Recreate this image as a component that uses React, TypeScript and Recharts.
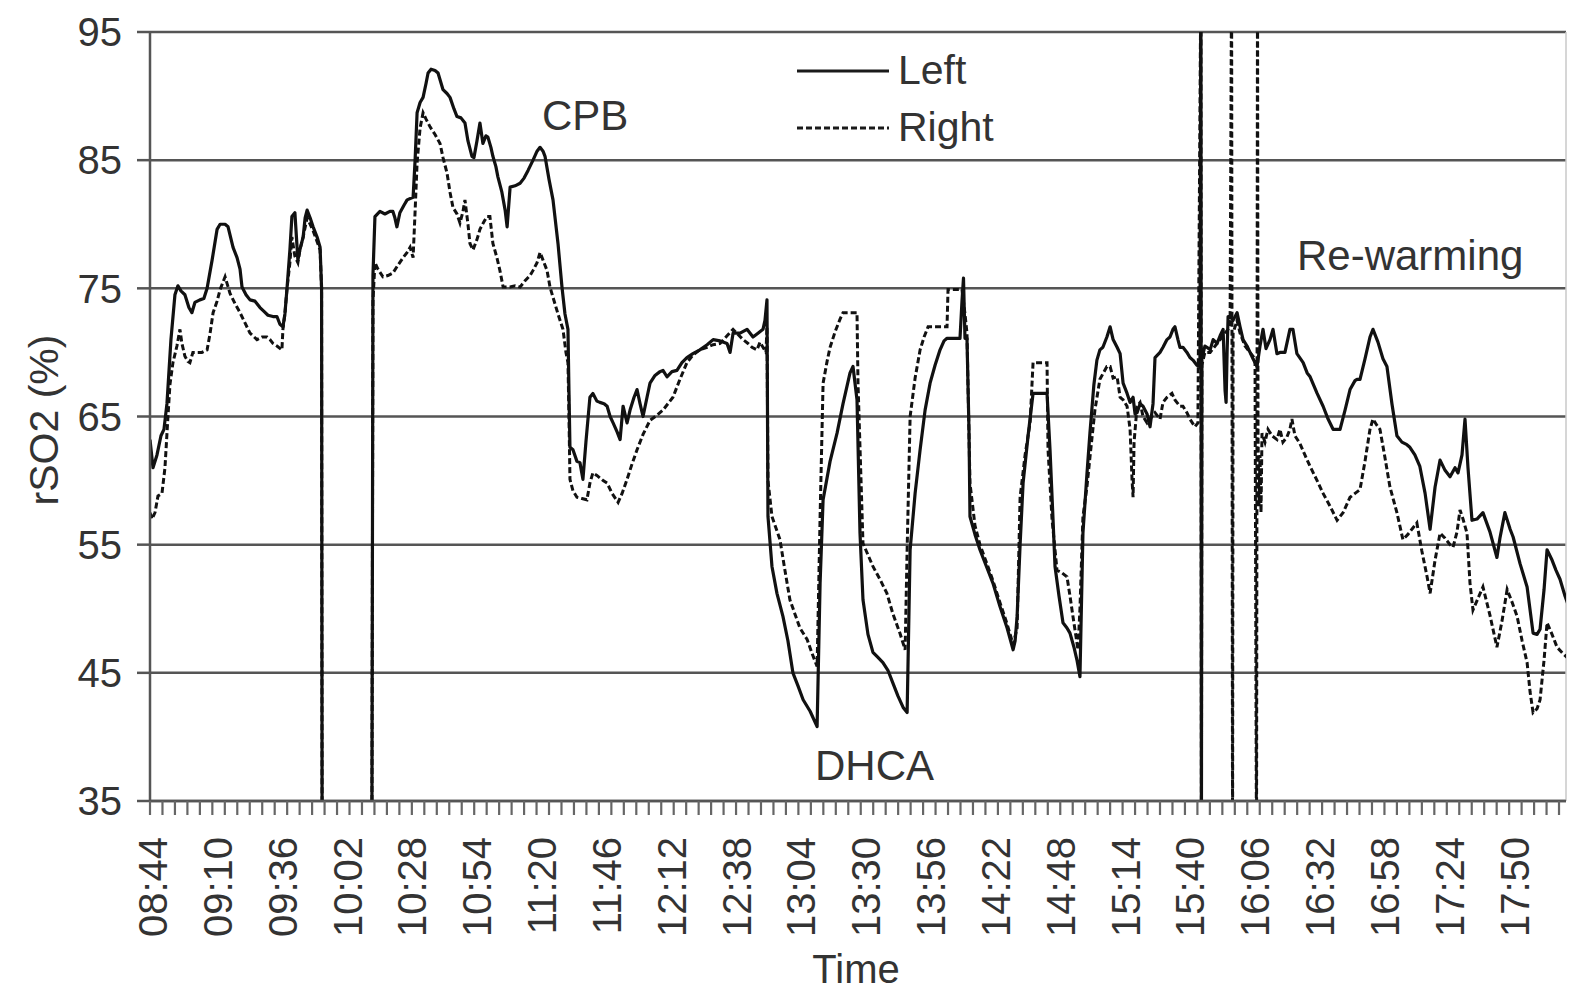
import { LineChart, Line, XAxis, YAxis, CartesianGrid, Legend, ReferenceLine } from "recharts"

const FONT = "'Liberation Sans', Arial, sans-serif"

// minutes after 08:44, rSO2 (%)
const leftSeries: [number, number | null][] = [
  [-1.2, 63.2], [0, 61], [1.6, 62], [3.2, 63.5], [4.4, 64], [5.6, 66], [7.2, 71], [8.8, 74.5], [10.0, 75.2], [11.2, 74.8],
  [12.8, 74.5], [14.4, 73.5], [15.6, 73.1], [16.8, 73.9], [18.8, 74.1], [20.4, 74.2], [21.7, 75], [23.7, 77.2], [25.7, 79.6],
  [26.9, 80], [28.9, 80], [30.1, 79.8], [32.1, 78.2], [33.7, 77.4], [34.9, 76.5], [35.7, 75.1], [37.3, 74.5], [38.9, 74.1],
  [40.9, 74], [42.9, 73.5], [44.5, 73.2], [46.1, 72.9], [48.1, 72.8], [49.7, 72.8], [50.9, 72.2], [52.1, 72], [52.9, 73],
  [53.7, 74.9], [54.9, 78], [55.7, 80.6], [56.9, 80.9], [58.1, 77.2], [58.9, 78], [60.2, 79], [61.0, 80.5], [61.8, 81.1],
  [63.0, 80.5], [64.2, 79.8], [65.8, 79], [67.0, 78.2], [67.6, 75], [67.8, 35], [77.8, null],
  [87.8, 35], [88.2, 76], [89.0, 80.6], [91.0, 81], [93.0, 80.8], [95.0, 81], [96.2, 81], [97.0, 80.5], [97.8, 79.8],
  [99.0, 80.9], [100.7, 81.5], [101.9, 81.9], [104.3, 82.1], [105.1, 85], [105.9, 88.7], [107.1, 89.5], [108.3, 89.9],
  [109.5, 91], [110.3, 91.8], [111.5, 92.1], [113.1, 92], [114.3, 91.8], [116.3, 90.5], [117.9, 90.2], [119.1, 89.9],
  [120.7, 89], [121.9, 88.4], [123.5, 88.3], [125.1, 87.9], [126.3, 86.5], [127.9, 85.3], [128.7, 85.2], [129.9, 86.5],
  [131.1, 87.9], [132.3, 86.3], [133.5, 86.9], [134.3, 86.8], [135.5, 86], [136.3, 85.3], [137.5, 84.5], [138.3, 83.7],
  [139.9, 82.5], [141.2, 81.1], [142.0, 79.8], [143.2, 82.9], [145.2, 83], [147.2, 83.2], [148.8, 83.6], [150.4, 84.2],
  [152.4, 85], [154.0, 85.7], [155.2, 86], [156.4, 85.7], [157.2, 85.3], [158.8, 83.5], [160.4, 81.9], [162.4, 78.5],
  [164.0, 75.1], [165.2, 73], [166.4, 71.8], [166.8, 67], [167.2, 62.6], [168.4, 62.4], [170.0, 61.5], [171.2, 61.4],
  [172.4, 60.1], [173.6, 63], [175.2, 66.5], [176.4, 66.8], [178.0, 66.2], [179.2, 66.1], [180.9, 66], [182.1, 65.8],
  [183.3, 65], [184.5, 64.5], [186.1, 63.8], [187.3, 63.2], [188.5, 65.8], [190.1, 64.5], [191.3, 65.5], [192.9, 66.5],
  [194.1, 67.1], [195.3, 66], [196.5, 65], [198.1, 66.5], [199.3, 67.6], [201.3, 68.2], [203.3, 68.5], [204.5, 68.6],
  [206.1, 68.1], [208.1, 68.5], [210.1, 68.6], [212.1, 69.2], [214.1, 69.6], [216.5, 69.9], [219.3, 70.2], [222.2, 70.6],
  [224.6, 71], [227.4, 70.9], [230.2, 70.7], [231.4, 70], [232.6, 71.5], [235.4, 71.5], [238.2, 71.8], [240.6, 71.2],
  [242.6, 71.5], [244.6, 71.8], [245.4, 72.5], [246.2, 74.1], [246.6, 57.2], [248.2, 53.3], [250.2, 51.2], [252.6, 49.4],
  [254.6, 47.5], [256.6, 45], [258.6, 44], [260.7, 42.9], [263.5, 42], [266.3, 40.8], [267.5, 52], [268.7, 58.5],
  [271.5, 61.5], [274.3, 63.7], [276.7, 66], [279.5, 68.4], [280.7, 68.9], [282.3, 66.3], [283.5, 55.9], [284.7, 50.7],
  [286.7, 48], [288.7, 46.6], [290.7, 46.2], [292.7, 45.8], [294.7, 45.2], [296.7, 44.2], [298.7, 43.2], [300.8, 42.3],
  [302.4, 41.9], [303.6, 54.6], [305.6, 59], [307.6, 62.4], [309.6, 65.5], [311.6, 67.6], [313.6, 69], [315.6, 70.2],
  [317.2, 70.9], [318.4, 71.1], [321.6, 71.1], [323.6, 71.1], [324.4, 74], [325.0, 75.8], [325.6, 71.1], [326.4, 71.1],
  [327.2, 64], [327.6, 57.2], [329.6, 55.8], [331.6, 54.6], [334.4, 53.2], [336.8, 52], [339.6, 50.2], [342.5, 48.5],
  [344.9, 46.8], [345.7, 47.5], [346.5, 49.4], [347.7, 55], [348.9, 59.8], [350.9, 63.5], [352.9, 66.8], [355.7, 66.8],
  [358.5, 66.8], [359.7, 62.4], [360.9, 57], [361.7, 53.3], [363.3, 51], [364.9, 48.9], [366.5, 48.5], [367.7, 48.1],
  [369.3, 47], [370.5, 46], [371.7, 44.7], [372.9, 55.9], [374.5, 60.5], [375.7, 63.7], [377.3, 67.5], [378.5, 69.4],
  [379.7, 70.2], [380.9, 70.4], [382.5, 71.2], [383.8, 72], [385.0, 71], [386.6, 70.4], [387.8, 69.9], [389.0, 67.6],
  [390.6, 66.8], [391.8, 66.1], [393.0, 66.5], [393.8, 65.2], [394.6, 65.3], [395.8, 66], [397.0, 65.8], [398.6, 65.2],
  [399.8, 64.2], [401.0, 66], [401.8, 69.6], [403.8, 70], [405.0, 70.4], [406.6, 71], [407.8, 71.2], [409.0, 71.8],
  [409.8, 72], [411.0, 71], [411.8, 70.4], [413.0, 70.4], [414.6, 70], [415.8, 69.6], [417.0, 69.4], [418.6, 69],
  [419.8, 68.9], [420.2, 100], [420.4, 30], [420.6, 69.5], [421.8, 70.5], [422.6, 70.4], [423.9, 70.2], [425.1, 71],
  [426.7, 70.7], [427.9, 71.3], [429.1, 71.8], [429.9, 67], [430.3, 66.1], [430.7, 70], [431.1, 72.8], [431.9, 72.8],
  [433.1, 72.5], [434.7, 73.1], [435.9, 72], [437.1, 71], [438.7, 70.5], [439.9, 70], [441.1, 69.5], [442.7, 68.9],
  [443.9, 70.5], [445.1, 71.8], [446.3, 70.3], [447.9, 71], [449.1, 71.8], [450.7, 69.9], [451.9, 70], [453.9, 70],
  [455.9, 71.8], [457.1, 71.8], [458.7, 69.9], [461.2, 69.2], [462.8, 68.4], [464.0, 68.1], [466.8, 66.8], [469.2, 65.8],
  [471.2, 64.8], [473.2, 64], [476.0, 64], [478.0, 65.5], [480.0, 67.1], [482.0, 67.8], [482.8, 67.9], [484.0, 67.9],
  [486.0, 69.5], [488.0, 71.2], [489.2, 71.8], [491.2, 70.8], [493.2, 69.5], [494.8, 68.9], [496.8, 66], [498.8, 63.5],
  [500.8, 63], [502.8, 62.8], [504.0, 62.6], [506.0, 62], [508.0, 61.1], [510.1, 59], [512.1, 56.2], [514.1, 59.5],
  [516.1, 61.6], [518.1, 60.8], [520.1, 60.3], [522.1, 61], [523.3, 60.6], [524.9, 62], [526.1, 64.8], [527.3, 61],
  [528.9, 56.9], [530.9, 57], [533.3, 57.5], [536.1, 56], [538.9, 54], [540.1, 55.5], [542.1, 57.5], [544.2, 56.2],
  [545.4, 55.6], [548.2, 53.5], [551.0, 51.7], [553.4, 48.1], [555.0, 48], [556.2, 48.4], [557.8, 51.5], [559.0, 54.6],
  [561.0, 53.8], [562.6, 53], [564.2, 52.3], [566.2, 51], [568.2, 49.9],
]

const rightSeries: [number, number | null][] = [
  [-1.2, 57.5], [-0.4, 57], [0.8, 57.5], [2.0, 58.8], [3.6, 59], [4.8, 61], [6.0, 65], [6.8, 67.5], [8.0, 69.2], [9.6, 70.5],
  [10.8, 71.8], [11.6, 70.7], [12.8, 69.7], [14.0, 69.3], [14.8, 69.2], [16.0, 70], [17.6, 70], [19.6, 70], [21.7, 70.2],
  [22.9, 71.5], [24.1, 73.1], [25.7, 74], [26.9, 74.9], [28.9, 75.9], [30.9, 74.6], [32.9, 73.8], [34.9, 73.1], [36.9, 72.3],
  [38.9, 71.5], [41.7, 71], [43.7, 71.2], [45.7, 71.2], [46.9, 71], [48.1, 70.7], [49.7, 70.5], [51.7, 70.2], [52.1, 71.8],
  [52.9, 73], [53.7, 74.9], [54.9, 77], [55.7, 79], [56.9, 77.5], [58.1, 77], [58.9, 78], [60.2, 79], [61.8, 80.5],
  [64.2, 79.5], [67.0, 78], [67.6, 75], [67.8, 35], [77.8, null],
  [87.8, 35], [88.2, 74], [89.0, 77], [90.2, 76.5], [92.2, 75.9], [94.2, 76], [96.2, 76.2], [98.2, 76.8], [100.3, 77.4],
  [101.9, 77.8], [103.1, 78.2], [104.3, 77.4], [105.1, 81], [105.9, 84.8], [107.1, 87.5], [108.3, 88.7], [109.5, 88.2],
  [111.1, 87.6], [113.1, 87], [115.1, 86.3], [116.3, 85.2], [117.9, 84], [119.1, 82.5], [120.3, 81.3], [121.9, 80.8],
  [123.1, 80.1], [124.3, 81], [125.1, 81.9], [126.3, 80], [127.1, 78.5], [128.3, 78], [129.9, 78.8], [131.1, 79.6],
  [132.7, 80.2], [133.9, 80.6], [135.1, 80.6], [136.3, 78.5], [137.9, 77.4], [139.1, 76.4], [140.4, 75.1], [143.2, 75.1],
  [145.2, 75.2], [147.2, 75.1], [149.2, 75.6], [151.2, 76], [152.4, 76.4], [154.0, 77], [155.2, 77.8], [156.4, 77.2],
  [158.0, 76.4], [159.2, 75.1], [160.4, 74.3], [162.4, 73], [164.4, 71.8], [165.6, 70], [166.4, 69.2], [166.8, 65],
  [167.2, 60.1], [168.4, 59.2], [170.0, 58.7], [172.0, 58.6], [174.0, 58.5], [175.2, 59.8], [176.4, 60.6], [178.0, 60.4],
  [180.5, 60], [182.1, 59.8], [184.1, 59], [186.5, 58.3], [188.1, 59], [190.1, 60.1], [192.1, 61.3], [194.1, 62.4],
  [196.5, 63.6], [199.3, 64.7], [202.1, 65.1], [204.5, 65.5], [206.5, 66], [208.5, 66.5], [211.3, 67.9], [214.1, 69.2],
  [216.5, 69.8], [219.3, 70.2], [222.2, 70.4], [224.6, 70.6], [227.4, 70.7], [230.2, 71.3], [232.6, 71.8], [234.6, 71.4],
  [236.6, 71], [238.6, 70.7], [240.2, 70.4], [242.2, 70.2], [243.4, 70.8], [244.6, 70.4], [245.8, 70], [246.2, 72],
  [246.6, 60], [248.2, 57.2], [249.8, 56.3], [251.4, 55.4], [253.4, 53], [255.4, 50.7], [257.4, 49.6], [259.4, 48.5],
  [262.3, 47.6], [264.3, 46.5], [266.3, 45.5], [267.5, 57.2], [268.7, 67.6], [270.3, 69.3], [271.5, 70.4], [273.5, 71.6],
  [275.5, 72.6], [276.7, 73.1], [279.5, 73.1], [282.3, 73.1], [282.7, 67.6], [284.7, 55.1], [286.7, 54.2], [288.7, 53.3],
  [291.5, 52.3], [294.3, 51.2], [296.7, 49.6], [299.5, 48.1], [301.6, 46.8], [302.4, 54.6], [303.6, 65], [305.6, 68],
  [307.6, 70.2], [309.2, 71.2], [310.8, 72], [313.6, 72], [315.6, 72], [318.4, 72], [318.8, 74.9], [321.6, 74.9],
  [324.4, 74.9], [325.6, 73], [326.4, 71.5], [327.6, 59.8], [329.6, 56.5], [331.6, 55], [334.4, 53.5], [336.8, 52.2],
  [339.6, 50.5], [342.5, 48.8], [344.9, 47.2], [346.5, 48.5], [347.7, 58.7], [349.7, 62], [351.7, 64.5], [352.9, 69.2],
  [355.7, 69.2], [358.5, 69.2], [358.9, 62.4], [360.5, 57], [362.5, 53], [364.5, 52.8], [366.5, 52.5], [367.7, 51],
  [368.9, 49.4], [370.9, 46.8], [371.7, 50], [372.9, 57.2], [374.5, 59.5], [375.7, 61.8], [377.7, 65.5], [379.7, 67.9],
  [382.5, 68.9], [383.8, 68.9], [385.0, 68], [386.6, 68.1], [387.8, 66.5], [389.0, 66.3], [390.6, 65.8], [391.8, 64],
  [392.6, 60], [393.0, 58.7], [393.4, 63], [394.6, 65.8], [395.8, 66.1], [397.0, 65], [398.6, 64.5], [399.8, 64.8],
  [401.8, 65.3], [403.8, 64.8], [405.0, 66.1], [406.6, 66.5], [408.6, 66.8], [409.8, 66.3], [411.8, 65.8], [413.0, 65.8],
  [414.6, 65.3], [415.8, 64.8], [417.8, 64.2], [419.0, 64.5], [420.2, 100], [420.4, 30], [420.6, 69], [421.8, 70],
  [423.9, 70], [425.9, 70.5], [427.9, 71], [429.9, 71.5], [431.9, 72], [432.5, 100], [432.9, 30], [433.1, 71.5],
  [434.7, 72.5], [435.9, 71.5], [437.9, 70.5], [439.9, 70], [441.9, 69.5], [442.5, 30], [442.9, 100], [443.1, 63.5],
  [443.5, 58], [443.9, 62], [444.3, 57.5], [444.7, 63.7], [445.9, 63], [447.1, 64], [448.7, 63.5], [450.7, 63.2],
  [451.9, 64], [453.1, 63], [454.7, 63.4], [455.9, 64], [456.7, 64.8], [457.9, 63.5], [459.9, 62.9], [461.9, 62],
  [464.0, 61.1], [466.8, 60], [469.2, 59], [472.0, 58], [474.8, 56.9], [477.2, 57.5], [480.0, 58.7], [482.0, 59],
  [484.0, 59.3], [486.0, 61.5], [488.0, 64], [489.2, 64.8], [490.8, 64.3], [492.0, 64], [494.0, 61.8], [496.0, 59.5],
  [498.8, 57.5], [501.2, 55.4], [503.2, 55.8], [505.2, 56.3], [506.8, 56.7], [508.8, 54.5], [510.9, 52.5], [512.1, 51.2],
  [514.1, 53.8], [516.1, 55.9], [518.1, 55.5], [520.1, 55], [521.3, 54.8], [522.9, 56], [524.1, 57.7], [525.3, 57],
  [526.9, 55.9], [528.1, 52], [529.3, 49.9], [531.3, 50.8], [533.3, 51.7], [536.1, 49.5], [538.9, 47], [540.9, 49],
  [543.0, 51.5], [545.0, 50.5], [547.0, 49.4], [549.0, 47.5], [551.0, 45.8], [552.2, 43.5], [553.4, 41.9], [555.0, 42.2],
  [556.2, 42.9], [557.8, 46], [559.0, 48.9], [561.0, 48], [563.0, 47], [565.4, 46.5], [568.2, 46],
]

const START_CLOCK = 8 * 60 + 44
const xDomain: [number, number] = [-1.2, 566.6]
const labelTicks = Array.from({ length: 22 }, (_, i) => i * 26)
const minorTicks = Array.from({ length: 114 }, (_, k) => Math.round((-1.2 + 5 * k) * 10) / 10)
const xTicks = [...labelTicks, ...minorTicks].sort((a, b) => a - b)
const yTicks = [35, 45, 55, 65, 75, 85, 95]

const leftData = leftSeries.map(([m, v]) => ({ m, v }))
const rightData = rightSeries.map(([m, v]) => ({ m, v }))

const clock = (m: number) => {
  const t = START_CLOCK + m
  const h = Math.floor(t / 60)
  const mm = t % 60
  return `${String(h).padStart(2, "0")}:${String(mm).padStart(2, "0")}`
}

const TimeTick = (props: any) => {
  const { x, y, payload } = props
  const v = payload.value
  if (labelTicks.includes(v)) {
    return (
      <text
        transform={`translate(${x},${y + 36}) rotate(-90)`}
        textAnchor="end"
        dominantBaseline="central"
        fontSize={40}
        fill="#333"
        fontFamily={FONT}
      >
        {clock(v)}
      </text>
    )
  }
  return <line x1={x} y1={y} x2={x} y2={y + 14} stroke="#666" strokeWidth={2.2} />
}

const renderLegend = (props: any) => (
  <div style={{ fontFamily: FONT }}>
    {(props.payload || []).map((entry: any) => (
      <div key={entry.value} style={{ display: "flex", alignItems: "center", height: 57 }}>
        <svg width={96} height={10}>
          <line x1={2} y1={5} x2={94} y2={5} stroke="#1a1a1a" strokeWidth={3}
            strokeDasharray={entry.payload?.strokeDasharray} />
        </svg>
        <span style={{ fontSize: 41, color: "#333", marginLeft: 7, lineHeight: 1 }}>{entry.value}</span>
      </div>
    ))}
  </div>
)

export default function App() {
  return (
    <div style={{ position: "absolute", left: 0, top: 0, width: 1572, height: 995, background: "#fff" }}>
      <LineChart width={1572} height={995} margin={{ top: 32, right: 6, bottom: 0, left: 0 }} style={{ fontFamily: FONT }}>
        <CartesianGrid vertical={false} stroke="#555" strokeWidth={2.5} />
        <XAxis
          type="number"
          dataKey="m"
          domain={xDomain}
          ticks={xTicks}
          interval={0}
          height={194}
          tickSize={0}
          tickMargin={0}
          tickLine={false}
          tick={(p: any) => <TimeTick {...p} />}
          axisLine={{ stroke: "#555", strokeWidth: 2.5 }}
          allowDataOverflow
        />
        <YAxis
          type="number"
          domain={[35, 95]}
          ticks={yTicks}
          width={150}
          tickSize={13}
          tickMargin={15}
          allowDataOverflow
          axisLine={{ stroke: "#555", strokeWidth: 2.5 }}
          tickLine={{ stroke: "#555", strokeWidth: 2.5 }}
          tick={{ fontSize: 40, fill: "#333", fontFamily: FONT }}
        />
        <ReferenceLine x={xDomain[1]} stroke="#c8c8c8" strokeWidth={1.5} />
        <Legend
          layout="horizontal"
          verticalAlign="middle"
          align="center"
          content={renderLegend}
          wrapperStyle={{ left: 795, top: 42, width: 260 }}
        />
        <Line
          data={leftData}
          dataKey="v"
          name="Left"
          type="linear"
          stroke="#111"
          strokeWidth={3.2}
          strokeLinejoin="round"
          dot={false}
          activeDot={false}
          isAnimationActive={false}
        />
        <Line
          data={rightData}
          dataKey="v"
          name="Right"
          type="linear"
          stroke="#111"
          strokeWidth={3}
          strokeDasharray="6 3"
          dot={false}
          activeDot={false}
          isAnimationActive={false}
        />
      </LineChart>
      <svg width={1572} height={995} style={{ position: "absolute", left: 0, top: 0, pointerEvents: "none" }} fontFamily={FONT}>
        <text x={542} y={130} fontSize={42} fill="#333">CPB</text>
        <text x={815} y={780} fontSize={42} fill="#333">DHCA</text>
        <text x={1297} y={270} fontSize={42} fill="#333">Re-warming</text>
        <text x={856} y={983} fontSize={40} textAnchor="middle" fill="#333">Time</text>
        <text transform="translate(58,420) rotate(-90)" fontSize={41} textAnchor="middle" fill="#333">rSO2 (%)</text>
      </svg>
    </div>
  )
}
